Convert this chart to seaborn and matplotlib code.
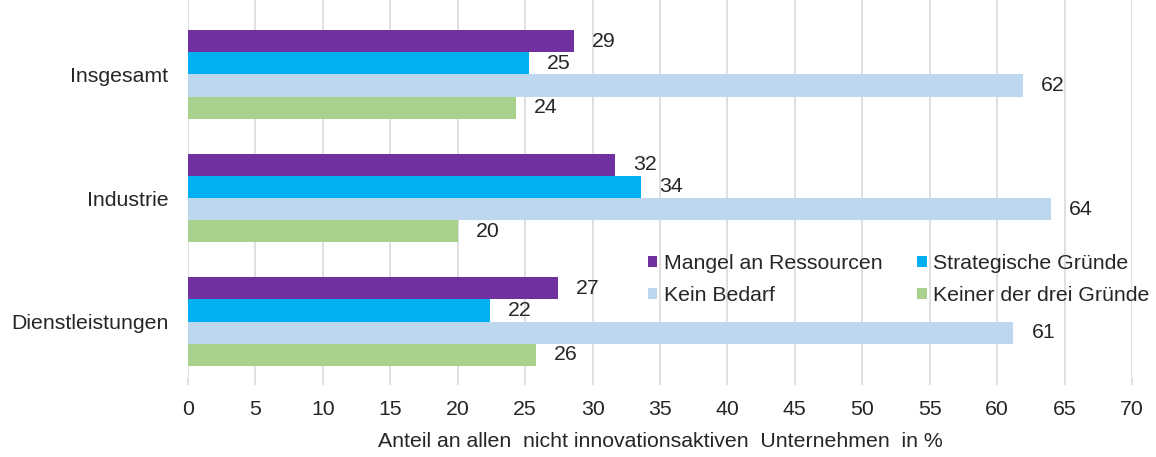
import pandas as pd
import matplotlib.pyplot as plt
import seaborn as sns

# Werte (Anteil in %)
bereiche = ["Insgesamt", "Industrie", "Dienstleistungen"]
gruende = ["Mangel an Ressourcen", "Strategische Gründe", "Kein Bedarf", "Keiner der drei Gründe"]
mangel = [28.6, 31.7, 27.4]
strategisch = [25.3, 33.6, 22.4]
kein_bedarf = [61.9, 64.0, 61.2]
keiner = [24.3, 20.0, 25.8]
farben = ["#7030A0", "#00B0F0", "#BDD7EE", "#A9D18E"]

rows = []
for g, vals in zip(gruende, [mangel, strategisch, kein_bedarf, keiner]):
    for b, v in zip(bereiche, vals):
        rows.append({"Bereich": b, "Grund": g, "Wert": v})
df = pd.DataFrame(rows)

sns.set_theme(style="white")
plt.rcParams['font.family'] = ['Liberation Sans', 'DejaVu Sans']
txt = "#262626"
grid = "#D9D9D9"
fs = 15.3

fig = plt.figure(figsize=(11.56, 4.57), dpi=100)
ax = fig.add_axes([188 / 1156, 1 - 378 / 457, 944 / 1156, 378 / 457])

sns.barplot(data=df, x="Wert", y="Bereich", hue="Grund", order=bereiche,
            hue_order=gruende, palette=farben, width=0.72, orient="h",
            saturation=1, linewidth=0, ax=ax, zorder=2)

for c in ax.containers:
    ax.bar_label(c, fmt="%.0f", padding=13, fontsize=fs, color=txt)

ax.set_xlim(0, 70)
ax.set_xticks(range(0, 71, 5))
ax.set_ylim(2.457, -0.603)
ax.grid(axis="x", color=grid, linewidth=1.2, zorder=0)
ax.grid(axis="y", visible=False)
for s in ax.spines.values():
    s.set_visible(False)
ax.tick_params(axis="x", bottom=True, length=5, width=1.2, color=grid,
               labelsize=fs, labelcolor=txt, pad=11)
ax.tick_params(axis="y", left=False, labelsize=fs, labelcolor=txt, pad=8)
ax.set_ylabel("")
ax.set_xlabel("Anteil an allen  nicht innovationsaktiven  Unternehmen  in %",
              fontsize=fs, color=txt, labelpad=9)

# Legende zeilenweise wie im Original
h, l = ax.get_legend_handles_labels()
idx = [0, 2, 1, 3]
ax.legend([h[i] for i in idx], [l[i] for i in idx],
          loc="center left", bbox_to_anchor=(0.487, 0.2606), ncol=2,
          frameon=False, fontsize=fs, borderpad=0, borderaxespad=0,
          handlelength=0.45, handleheight=0.45, handletextpad=0.3,
          columnspacing=1.65, labelspacing=0.6, labelcolor=txt)

plt.savefig("out.png", dpi=100)
plt.close()
